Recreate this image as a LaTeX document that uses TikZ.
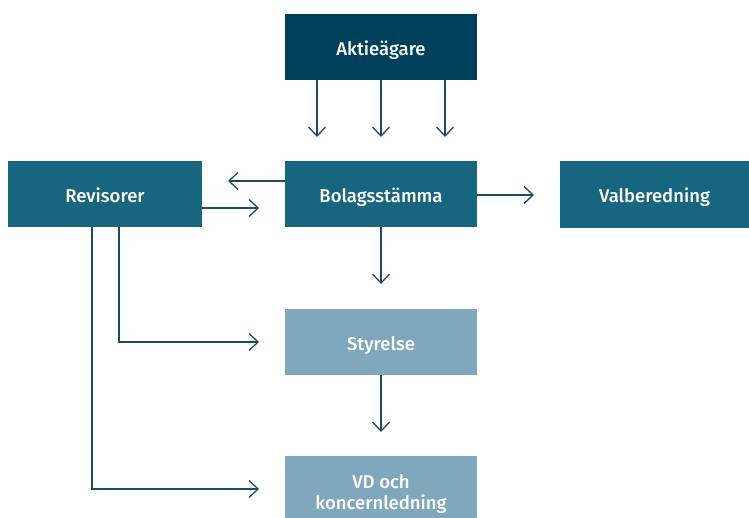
\documentclass[tikz,border=0pt]{standalone}
\usepackage{fontspec}
\setmainfont{Fira Sans}[UprightFont={* Medium}, BoldFont={* SemiBold}]
\usetikzlibrary{arrows.meta}
\definecolor{cdark}{HTML}{00405A}
\definecolor{cmid}{HTML}{17657F}
\definecolor{clight}{HTML}{7FA8BD}
\definecolor{cline}{HTML}{1D4B62}
\tikzset{
  boxbase/.style={rectangle, inner sep=0pt, minimum width=192pt, minimum height=66pt,
    text=white, font=\fontsize{18.5}{21}\selectfont, align=center},
  box/.style={boxbase, text height=17pt, text depth=0pt},
  arr/.style={draw=cline, line width=1.3pt,
    -{Straight Barb[length=9pt,width=17pt,line width=1.3pt]}}
}
\begin{document}
\begin{tikzpicture}[x=1pt,y=-1pt]
\useasboundingbox (0,0) rectangle (749,518);
\node[box, fill=cdark] (aktie) at (381,47) {Aktieägare};
\node[box, fill=cmid, minimum width=194pt] (rev) at (105,194) {Revisorer};
\node[box, fill=cmid] (bol) at (381,194) {Bolagsstämma};
\node[box, fill=cmid, minimum width=189pt, minimum height=67pt] (val) at (654.5,194.5) {Valberedning};
\node[box, fill=clight] (sty) at (381,342) {Styrelse};
\node[boxbase, fill=clight, minimum height=76pt] (vd) at (381,494) {VD och\\koncernledning};
% aktieägare arrows
\coordinate (a1) at (317,137);
\coordinate (a2) at (381,137);
\coordinate (a3) at (445,137);
\draw[arr] (aktie.south -| a1) -- (a1);
\draw[arr] (aktie.south -| a2) -- (a2);
\draw[arr] (aktie.south -| a3) -- (a3);
% bolagsstämma <-> revisorer
\coordinate (l1) at (228,181);
\draw[arr] (bol.west |- l1) -- (l1);
\coordinate (r1) at (259,208);
\draw[arr] (rev.east |- r1) -- (r1);
\coordinate (v1) at (534,195);
\draw[arr] (bol.east |- v1) -- (v1);
\coordinate (b1) at (381,284);
\draw[arr] (bol.south) -- (b1);
\coordinate (s1) at (381,432);
\draw[arr] (sty.south) -- (s1);
% revisorer elbows
\coordinate (e1) at (259,342);
\coordinate (e2) at (259,489);
\draw[arr] (rev.south -| 119,0) |- (e1);
\draw[arr] (rev.south -| 92,0) |- (e2);
\end{tikzpicture}
\end{document}
